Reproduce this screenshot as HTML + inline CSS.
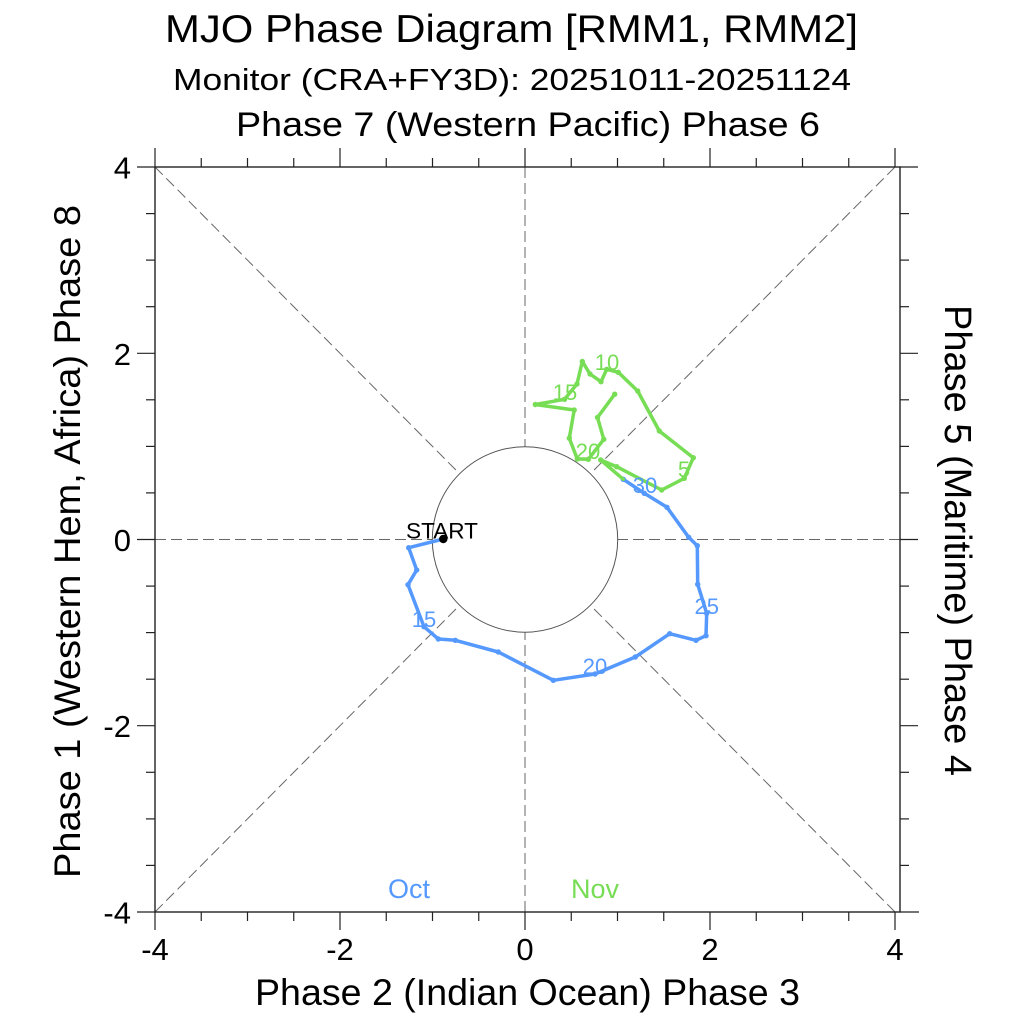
<!DOCTYPE html>
<html><head><meta charset="utf-8"><style>
html,body{margin:0;padding:0;background:#fff;}
svg{display:block;font-family:"Liberation Sans",Arial,sans-serif;}
</style></head><body>
<svg width="1024" height="1024" viewBox="0 0 1024 1024" xmlns="http://www.w3.org/2000/svg">
<rect width="1024" height="1024" fill="#fff"/>
<!-- Titles -->
<text x="165" y="42" font-size="39" textLength="693" lengthAdjust="spacingAndGlyphs" fill="#000">MJO Phase Diagram [RMM1, RMM2]</text>
<text x="173" y="90" font-size="31" textLength="678" lengthAdjust="spacingAndGlyphs" fill="#000">Monitor (CRA+FY3D): 20251011-20251124</text>
<text x="236" y="136" font-size="34" textLength="584" lengthAdjust="spacingAndGlyphs" fill="#000">Phase 7 (Western Pacific) Phase 6</text>

<!-- dashed guide lines -->
<g stroke="#666" stroke-width="1" stroke-dasharray="11,5" fill="none">
<line x1="155" y1="539.5" x2="432.5" y2="539.5"/>
<line x1="900" y1="539.5" x2="617.5" y2="539.5"/>
<line x1="525" y1="167" x2="525" y2="447"/>
<line x1="525" y1="912" x2="525" y2="632"/>
<line x1="155" y1="167" x2="459.6" y2="473.7"/>
<line x1="895" y1="167" x2="590.4" y2="473.7"/>
<line x1="155" y1="912" x2="459.6" y2="605.3"/>
<line x1="895" y1="912" x2="590.4" y2="605.3"/>
</g>
<circle cx="525" cy="539.5" r="92.7" fill="none" stroke="#555" stroke-width="1"/>

<!-- axes box -->
<rect x="155" y="167" width="745" height="745" fill="none" stroke="#222" stroke-width="1.4"/>
<g stroke="#222" stroke-width="1.2">
<line x1="155" y1="167" x2="155" y2="148"/><line x1="155" y1="912" x2="155" y2="930"/>
<line x1="201.25" y1="167" x2="201.25" y2="158"/><line x1="201.25" y1="912" x2="201.25" y2="921"/>
<line x1="247.5" y1="167" x2="247.5" y2="158"/><line x1="247.5" y1="912" x2="247.5" y2="921"/>
<line x1="293.75" y1="167" x2="293.75" y2="158"/><line x1="293.75" y1="912" x2="293.75" y2="921"/>
<line x1="340" y1="167" x2="340" y2="148"/><line x1="340" y1="912" x2="340" y2="930"/>
<line x1="386.25" y1="167" x2="386.25" y2="158"/><line x1="386.25" y1="912" x2="386.25" y2="921"/>
<line x1="432.5" y1="167" x2="432.5" y2="158"/><line x1="432.5" y1="912" x2="432.5" y2="921"/>
<line x1="478.75" y1="167" x2="478.75" y2="158"/><line x1="478.75" y1="912" x2="478.75" y2="921"/>
<line x1="525" y1="167" x2="525" y2="148"/><line x1="525" y1="912" x2="525" y2="930"/>
<line x1="571.25" y1="167" x2="571.25" y2="158"/><line x1="571.25" y1="912" x2="571.25" y2="921"/>
<line x1="617.5" y1="167" x2="617.5" y2="158"/><line x1="617.5" y1="912" x2="617.5" y2="921"/>
<line x1="663.75" y1="167" x2="663.75" y2="158"/><line x1="663.75" y1="912" x2="663.75" y2="921"/>
<line x1="710" y1="167" x2="710" y2="148"/><line x1="710" y1="912" x2="710" y2="930"/>
<line x1="756.25" y1="167" x2="756.25" y2="158"/><line x1="756.25" y1="912" x2="756.25" y2="921"/>
<line x1="802.5" y1="167" x2="802.5" y2="158"/><line x1="802.5" y1="912" x2="802.5" y2="921"/>
<line x1="848.75" y1="167" x2="848.75" y2="158"/><line x1="848.75" y1="912" x2="848.75" y2="921"/>
<line x1="895" y1="167" x2="895" y2="148"/><line x1="895" y1="912" x2="895" y2="930"/>
<line x1="155" y1="167" x2="137" y2="167"/><line x1="900" y1="167" x2="918" y2="167"/>
<line x1="155" y1="213.6" x2="146" y2="213.6"/><line x1="900" y1="213.6" x2="909" y2="213.6"/>
<line x1="155" y1="260.1" x2="146" y2="260.1"/><line x1="900" y1="260.1" x2="909" y2="260.1"/>
<line x1="155" y1="306.7" x2="146" y2="306.7"/><line x1="900" y1="306.7" x2="909" y2="306.7"/>
<line x1="155" y1="353.3" x2="137" y2="353.3"/><line x1="900" y1="353.3" x2="918" y2="353.3"/>
<line x1="155" y1="399.8" x2="146" y2="399.8"/><line x1="900" y1="399.8" x2="909" y2="399.8"/>
<line x1="155" y1="446.4" x2="146" y2="446.4"/><line x1="900" y1="446.4" x2="909" y2="446.4"/>
<line x1="155" y1="492.9" x2="146" y2="492.9"/><line x1="900" y1="492.9" x2="909" y2="492.9"/>
<line x1="155" y1="539.5" x2="137" y2="539.5"/><line x1="900" y1="539.5" x2="918" y2="539.5"/>
<line x1="155" y1="586.1" x2="146" y2="586.1"/><line x1="900" y1="586.1" x2="909" y2="586.1"/>
<line x1="155" y1="632.6" x2="146" y2="632.6"/><line x1="900" y1="632.6" x2="909" y2="632.6"/>
<line x1="155" y1="679.2" x2="146" y2="679.2"/><line x1="900" y1="679.2" x2="909" y2="679.2"/>
<line x1="155" y1="725.7" x2="137" y2="725.7"/><line x1="900" y1="725.7" x2="918" y2="725.7"/>
<line x1="155" y1="772.3" x2="146" y2="772.3"/><line x1="900" y1="772.3" x2="909" y2="772.3"/>
<line x1="155" y1="818.9" x2="146" y2="818.9"/><line x1="900" y1="818.9" x2="909" y2="818.9"/>
<line x1="155" y1="865.4" x2="146" y2="865.4"/><line x1="900" y1="865.4" x2="909" y2="865.4"/>
<line x1="155" y1="912" x2="137" y2="912"/><line x1="900" y1="912" x2="919" y2="912"/>
</g>

<!-- tick labels -->
<g font-size="31" fill="#000" text-anchor="end">
<text x="131" y="178.5">4</text>
<text x="131" y="364.8">2</text>
<text x="131" y="551">0</text>
<text x="131" y="737.2">-2</text>
<text x="131" y="923.5">-4</text>
</g>
<g font-size="31" fill="#000" text-anchor="middle">
<text x="155" y="960">-4</text>
<text x="340" y="960">-2</text>
<text x="525" y="960">0</text>
<text x="710" y="960">2</text>
<text x="895" y="960">4</text>
</g>

<!-- axis labels -->
<text x="255" y="1005" font-size="37" textLength="545" lengthAdjust="spacingAndGlyphs" fill="#000">Phase 2 (Indian Ocean) Phase 3</text>
<text transform="translate(80,878) rotate(-90)" font-size="37" textLength="673" lengthAdjust="spacingAndGlyphs" fill="#000">Phase 1 (Western Hem, Africa) Phase 8</text>
<text transform="translate(945,305) rotate(90)" font-size="38" fill="#000">Phase 5 (Maritime) Phase 4</text>

<!-- Oct series -->
<g>
<polyline fill="none" stroke="#5599ff" stroke-width="3.5" stroke-linejoin="round" stroke-linecap="round"
points="443.3,539 408.7,547.7 416.7,570 408,584.7 424,626.7 438.3,639 455.3,640.3 498.3,652 553.3,680.3 595,674 635.3,657 669.7,633.7 696,640.3 706,635.7 706.7,613.3 697.7,584.3 697.3,545.7 688.7,537.3 667,507.3 644.3,493.3 623.3,479.3"/>
<g fill="#5599ff">
<circle cx="408.7" cy="547.7" r="2.7"/><circle cx="416.7" cy="570" r="2.7"/><circle cx="408" cy="584.7" r="2.7"/><circle cx="424" cy="626.7" r="2.7"/><circle cx="438.3" cy="639" r="2.7"/><circle cx="455.3" cy="640.3" r="2.7"/><circle cx="498.3" cy="652" r="2.7"/><circle cx="553.3" cy="680.3" r="2.7"/><circle cx="595" cy="674" r="2.7"/><circle cx="635.3" cy="657" r="2.7"/><circle cx="669.7" cy="633.7" r="2.7"/><circle cx="696" cy="640.3" r="2.7"/><circle cx="706" cy="635.7" r="2.7"/><circle cx="706.7" cy="613.3" r="2.7"/><circle cx="697.7" cy="584.3" r="2.7"/><circle cx="697.3" cy="545.7" r="2.7"/><circle cx="688.7" cy="537.3" r="2.7"/><circle cx="667" cy="507.3" r="2.7"/><circle cx="644.3" cy="493.3" r="2.7"/><circle cx="623.3" cy="479.3" r="2.7"/>
</g>
</g>

<!-- Nov series -->
<g>
<polyline fill="none" stroke="#77dd55" stroke-width="3.5" stroke-linejoin="round" stroke-linecap="round"
points="623.3,479.3 600.7,460 616.7,466.7 661.7,490 684.3,478.3 693.3,457.7 659.3,431 637.7,391 618.3,372.3 606.7,369.3 601,381.7 590,374 582.3,361.5 577,384 564.5,399.3 535.3,404.5 574.2,410 569.3,438.2 577.3,459 588.3,459.3 603.8,439.3 597.5,417.5 614.7,394.2"/>
<g fill="#77dd55">
<circle cx="600.7" cy="460" r="2.7"/><circle cx="616.7" cy="466.7" r="2.7"/><circle cx="661.7" cy="490" r="2.7"/><circle cx="684.3" cy="478.3" r="2.7"/><circle cx="693.3" cy="457.7" r="2.7"/><circle cx="659.3" cy="431" r="2.7"/><circle cx="637.7" cy="391" r="2.7"/><circle cx="618.3" cy="372.3" r="2.7"/><circle cx="606.7" cy="369.3" r="2.7"/><circle cx="601" cy="381.7" r="2.7"/><circle cx="590" cy="374" r="2.7"/><circle cx="582.3" cy="361.5" r="2.7"/><circle cx="577" cy="384" r="2.7"/><circle cx="564.5" cy="399.3" r="2.7"/><circle cx="535.3" cy="404.5" r="2.7"/><circle cx="574.2" cy="410" r="2.7"/><circle cx="569.3" cy="438.2" r="2.7"/><circle cx="577.3" cy="459" r="2.7"/><circle cx="588.3" cy="459.3" r="2.7"/><circle cx="603.8" cy="439.3" r="2.7"/><circle cx="597.5" cy="417.5" r="2.7"/><circle cx="614.7" cy="394.2" r="2.7"/>
</g>
</g>

<!-- start marker -->
<circle cx="443.3" cy="539" r="4.2" fill="#000"/>
<text x="406" y="538.3" font-size="22.6" fill="#000">START</text>

<!-- day labels -->
<g font-size="22" text-anchor="middle" fill="#5599ff">
<text x="424" y="627">15</text>
<text x="595" y="674">20</text>
<text x="706.7" y="614">25</text>
<text x="645" y="493">30</text>
</g>
<g font-size="22" text-anchor="middle" fill="#77dd55">
<text x="684" y="477">5</text>
<text x="607" y="370">10</text>
<text x="565" y="400">15</text>
<text x="588" y="459">20</text>
</g>

<!-- month labels -->
<text x="409" y="898" font-size="27" text-anchor="middle" fill="#5599ff">Oct</text>
<text x="595" y="898" font-size="27" text-anchor="middle" fill="#77dd55">Nov</text>
</svg>
</body></html>
